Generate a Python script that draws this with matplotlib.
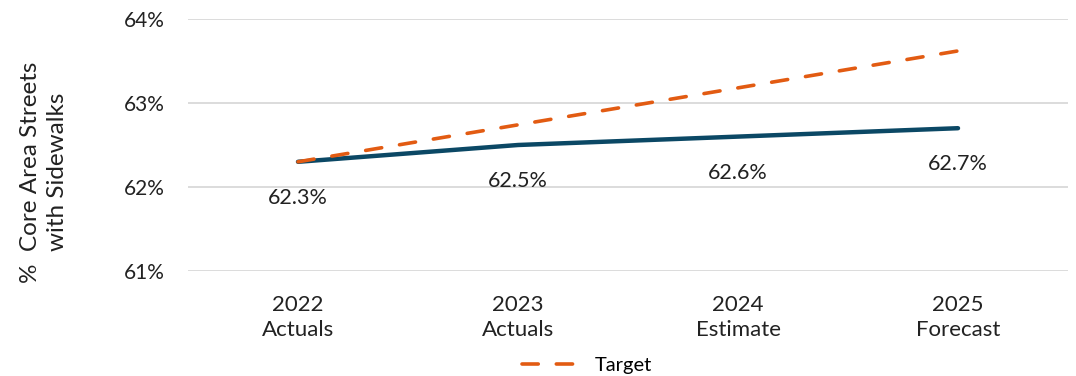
import matplotlib

matplotlib.use("Agg")
import matplotlib.pyplot as plt  # noqa: E402
from matplotlib.ticker import FuncFormatter  # noqa: E402

# values
categories = ["2022\nActuals", "2023\nActuals", "2024\nEstimate", "2025\nForecast"]
actual = [62.3, 62.5, 62.6, 62.7]
target = [62.3, 62.74, 63.18, 63.62]
actual_labels = ["62.3%", "62.5%", "62.6%", "62.7%"]
y_ticks = [61, 62, 63, 64]

plt.rcParams["font.family"] = ["Lato", "DejaVu Sans"]

fig = plt.figure(figsize=(10.76, 3.76), dpi=100)
ax = fig.add_axes([188 / 1076, 1 - 271 / 376, 880 / 1076, 252 / 376])

x = list(range(len(categories)))
ax.plot(x, actual, color="#0B4865", lw=3.2, solid_capstyle="round", zorder=3)
ax.plot(x, target, color="#E25B12", lw=2.6, ls=(0, (4.5, 5)), dash_capstyle="round",
        zorder=4, label="Target")

for xi, yi, lab in zip(x, actual, actual_labels):
    ax.annotate(lab, (xi, yi), xytext=(0, -26), textcoords="offset points",
                ha="center", va="center", fontsize=15.5, color="#222222")

ax.set_xlim(-0.5, 3.5)
ax.set_ylim(61, 64)
ax.set_yticks(y_ticks)
ax.yaxis.set_major_formatter(FuncFormatter(lambda v, _: f"{v:.0f}%"))
ax.set_xticks(x)
ax.set_xticklabels(categories, fontsize=16, color="#222222", linespacing=1.35)
ax.tick_params(axis="y", labelsize=15, labelcolor="#222222", length=0, pad=17)
ax.tick_params(axis="x", length=0, pad=17)
ax.grid(axis="y", color="#D9D9D9", lw=1.3)
ax.set_axisbelow(True)
for s in ax.spines.values():
    s.set_visible(False)

fig.text(44 / 1076, 1 - 172 / 376, "%  Core Area Streets\nwith Sidewalks", rotation=90,
         ha="center", va="center", fontsize=17.5, color="#222222", linespacing=1.3)

fig.legend(loc="center", bbox_to_anchor=(587 / 1076, 1 - 365 / 376), frameon=False,
           fontsize=14.5, handlelength=3.2, handletextpad=0.4, borderaxespad=0)

fig.savefig("out.png", dpi=100)
